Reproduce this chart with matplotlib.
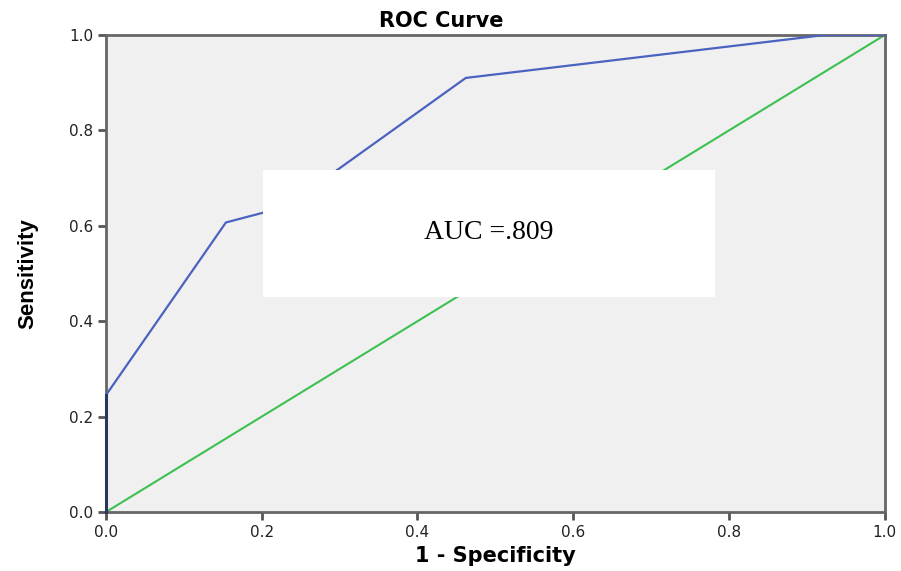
import matplotlib.pyplot as plt
from matplotlib.patches import Rectangle

# ROC curve points (1 - specificity, sensitivity)
fpr = [0.0, 0.0, 0.154, 0.231, 0.462, 0.923, 1.0]
tpr = [0.0, 0.245, 0.607, 0.640, 0.910, 1.0, 1.0]
ref_line = [0.0, 1.0]
ticks = [0.0, 0.2, 0.4, 0.6, 0.8, 1.0]
tick_labels = ['0.0', '0.2', '0.4', '0.6', '0.8', '1.0']
auc_text = 'AUC =.809'

fig = plt.figure(figsize=(9.01, 5.71), dpi=100)
ax = fig.add_axes([0.1176, 0.1033, 0.8644, 0.8354])
ax.set_facecolor('#f0f0f0')

ax.plot(ref_line, ref_line, color='#3cc151', lw=1.5, zorder=2)
ax.plot(fpr, tpr, color='#4a62c0', lw=1.6, zorder=3)
# the vertical part on the y axis looks dark
ax.plot(fpr[:2], tpr[:2], color='#2a3560', lw=2.2, zorder=4, clip_on=False)

ax.set_xlim(0, 1)
ax.set_ylim(0, 1)
ax.set_xticks(ticks)
ax.set_xticklabels(tick_labels)
ax.set_yticks(ticks)
ax.set_yticklabels(tick_labels)
ax.tick_params(direction='out', length=6, width=2, color='#555555',
               labelsize=11, labelcolor='#222222', pad=3)
for pos in ['right', 'top', 'bottom', 'left']:
    ax.spines[pos].set_color('#666666')
    ax.spines[pos].set_linewidth(2)

ax.set_title('ROC Curve', fontsize=15, fontweight='bold', pad=6, x=0.43,
             family='DejaVu Sans')
ax.set_xlabel('1 - Specificity', fontsize=15, fontweight='bold', labelpad=5)
ax.set_ylabel('Sensitivity', fontsize=16, fontweight='bold',
              family='Liberation Sans', labelpad=22)

# white AUC box over the plot
box = Rectangle((0.292, 0.480), 0.5016, 0.2223, transform=fig.transFigure,
                facecolor='white', edgecolor='none', zorder=5)
fig.patches.append(box)
fig.text(0.542, 0.593, auc_text, fontsize=20, family='Liberation Serif',
         ha='center', va='center', zorder=6)

fig.savefig('out.png', dpi=100)
